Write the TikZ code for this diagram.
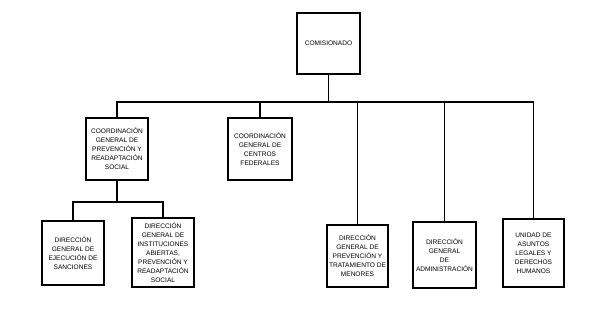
\documentclass[tikz,border=0pt]{standalone}
\usepackage{fontspec}
\setmainfont{Liberation Sans}
\usetikzlibrary{positioning}

\begin{document}
\begin{tikzpicture}[
  x=0.03cm,y=-0.03cm,
  font=\fontsize{5.6}{7.7}\selectfont,
  unit/.style={draw,line width=1.1pt,align=center,inner sep=1pt,
    minimum width=1.86cm,minimum height=1.86cm},
  ln/.style={line width=0.9pt}
]
\useasboundingbox (0,0) rectangle (589,316);
% top
\node[unit,minimum width=1.89cm,minimum height=1.83cm] (com) at (328.5,43.5) {COMISIONADO};
% second level
\node[unit] (cgp) at (117,149) {COORDINACIÓN\\GENERAL DE\\PREVENCIÓN Y\\READAPTACIÓN\\SOCIAL};
\node[unit,minimum width=1.92cm] (cgc) at (260,149) {COORDINACIÓN\\GENERAL DE\\CENTROS\\FEDERALES};
% third level
\node[unit,minimum height=1.92cm] (dgs) at (73,253) {DIRECCIÓN\\GENERAL DE\\EJECUCIÓN DE\\SANCIONES};
\node[unit,minimum height=2.07cm] (dgi) at (163,252.5) {DIRECCIÓN\\GENERAL DE\\INSTITUCIONES\\ABIERTAS,\\PREVENCIÓN Y\\READAPTACIÓN\\SOCIAL};
\node[unit,minimum width=1.83cm] (dgm) at (357.5,256) {DIRECCIÓN\\GENERAL DE\\PREVENCIÓN Y\\TRATAMIENTO DE\\MENORES};
\node[unit,minimum width=1.89cm,minimum height=1.98cm] (dga) at (444.5,255) {DIRECCIÓN\\GENERAL\\DE\\ADMINISTRACIÓN};
\node[unit,minimum width=1.83cm,minimum height=2.04cm] (uaj) at (533.5,253) {UNIDAD DE\\ASUNTOS\\LEGALES Y\\DERECHOS\\HUMANOS};
% connectors
\coordinate (bus) at (328.5,102);
\coordinate (sub) at (117,202);
\draw[ln] (com) -- (bus);
\draw[ln] (cgp.north) |- (bus) -| (uaj.north);
\draw[ln] (cgc.north) -- (cgc.north|-bus);
\draw[ln] (dgm.north) -- (dgm.north|-bus);
\draw[ln] (dga.north) -- (dga.north|-bus);
\draw[ln] (cgp) -- (sub);
\draw[ln] (dgs.north) |- (sub) -| (dgi.north);
\end{tikzpicture}
\end{document}
